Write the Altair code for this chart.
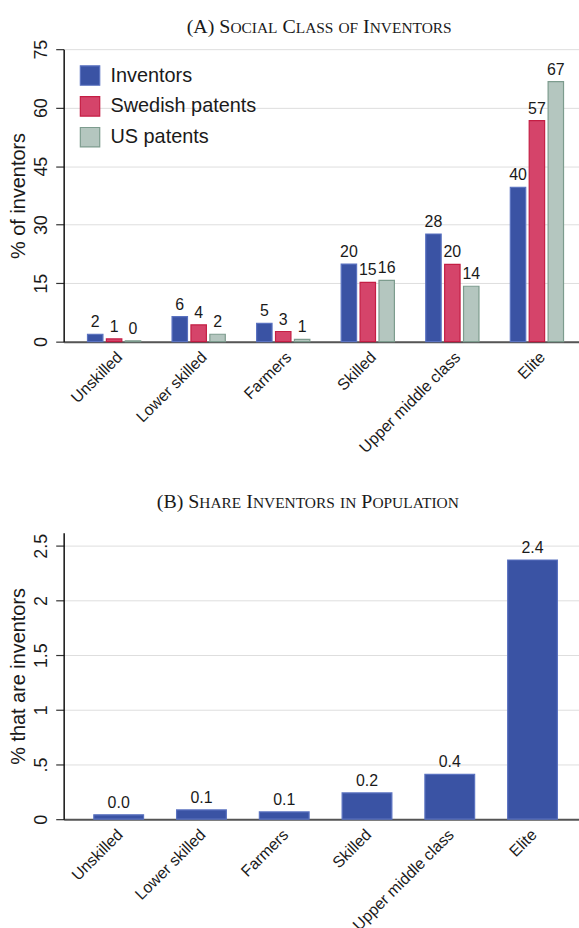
import altair as alt
import pandas as pd

# ---- data -------------------------------------------------------------
categories = ["Unskilled", "Lower skilled", "Farmers", "Skilled",
              "Upper middle class", "Elite"]
series_names = ["Inventors", "Swedish patents", "US patents"]

inventors = [1.9, 6.4, 4.7, 19.9, 27.6, 39.6]
swedish_patents = [0.7, 4.3, 2.6, 15.2, 19.8, 56.7]
us_patents = [0.2, 1.9, 0.6, 15.7, 14.2, 66.7]

share_inventors = [0.04, 0.085, 0.066, 0.24, 0.41, 2.37]

ticks_a = [0, 15, 30, 45, 60, 75]
ticks_b = [0, 0.5, 1, 1.5, 2, 2.5]

title_a = "(A) Social Class of Inventors"
title_b = "(B) Share Inventors in Population"

# ---- styling ----------------------------------------------------------
SANS = "Liberation Sans"
SERIF = "Liberation Serif"
INK = "#1a1a1a"
series_fill = ["#3a53a4", "#d5446a", "#b4c6bf"]
series_edge = ["#5a72c0", "#c41e44", "#7d9c8e"]

W = 518
H_A = 294
H_B = 288

# Times advance widths (per 1000 em) for small-caps title layout
TIMES_W = {
    "A": 722, "B": 667, "C": 667, "D": 722, "E": 611, "F": 556, "G": 722,
    "H": 722, "I": 333, "J": 389, "K": 722, "L": 611, "M": 889, "N": 722,
    "O": 722, "P": 556, "Q": 722, "R": 667, "S": 556, "T": 611, "U": 722,
    "V": 722, "W": 944, "X": 722, "Y": 722, "Z": 611, " ": 250, "(": 333,
    ")": 333,
}


def smallcaps_title(text, center_x, baseline_y, big=20, small=15.5):
    """Lay out a small-caps heading as runs of full and reduced capitals."""
    runs = []  # [string, size, x]
    total = 0.0
    for ch in text:
        size = small if ch.islower() else big
        adv = TIMES_W.get(ch.upper(), 600) * size / 1000
        if ch == " ":
            runs.append(None)
        elif runs and runs[-1] is not None and runs[-1][1] == size:
            runs[-1][0] += ch.upper()
        else:
            runs.append([ch.upper(), size, total])
        total += adv
    x0 = center_x - total / 2
    layers = []
    for run in runs:
        if run is None:
            continue
        s, sz, off = run
        layers.append(
            alt.Chart(alt.Data(values=[{}]))
            .mark_text(text=s, font=SERIF, fontSize=sz, align="left",
                       baseline="alphabetic", color=INK)
            .encode(x=alt.value(x0 + off), y=alt.value(baseline_y))
        )
    return layers


def band_scale(n, step, bandwidth, first_center):
    """Band scale placing n bands of a given step, first centred at first_center."""
    p_in = 1 - bandwidth / step
    p_out = (W / step - (n - p_in)) / 2
    align = (first_center - bandwidth / 2) / (W - step * (n - p_in))
    return alt.Scale(paddingInner=p_in, paddingOuter=p_out, align=align)


def x_axis(shift):
    return alt.Axis(title=None, labelAngle=-45, labelAlign="right",
                    labelBaseline="top", labelFont=SANS, labelFontSize=16,
                    labelColor=INK, labelPadding=7, labelOffset=shift,
                    ticks=False, grid=False,
                    domainColor="#555555", domainWidth=2)


def y_axis(title, values, **extra):
    return alt.Axis(title=title, values=values, labelAngle=270,
                    labelAlign="center", labelBaseline="alphabetic",
                    labelPadding=9, labelFont=SANS, labelFontSize=18,
                    labelColor=INK, tickSize=8, tickColor="#333333",
                    tickWidth=1.2, domainColor="#111111", domainWidth=1.5,
                    grid=True, gridColor="#dedede", gridWidth=1,
                    titleFont=SANS, titleFontSize=20, titleFontWeight="normal",
                    titleColor=INK, titlePadding=4, **extra)


# ---- panel A: grouped bars --------------------------------------------
rows = []
for name, vals in zip(series_names, [inventors, swedish_patents, us_patents]):
    for cat, v in zip(categories, vals):
        rows.append({"category": cat, "series": name, "value": v})
df_a = pd.DataFrame(rows)

x_a = alt.X("category:N", sort=categories, axis=x_axis(0),
            scale=band_scale(6, 85, 53.5, 50.7))
off_a = alt.XOffset("series:N", sort=series_names,
                    scale=alt.Scale(paddingInner=0.184, paddingOuter=0))
y_a = alt.Y("value:Q", scale=alt.Scale(domain=[0, 75], nice=False),
            axis=y_axis("% of inventors", ticks_a))

legend = alt.Legend(title=None, orient="top-left", offset=16, padding=0,
                    symbolType="square", symbolSize=380, symbolStrokeWidth=1.2,
                    labelFont=SANS, labelFontSize=20, labelColor=INK,
                    labelOffset=10, rowPadding=6)

bars_a = alt.Chart(df_a).mark_bar(strokeWidth=1.2).encode(
    x=x_a, xOffset=off_a, y=y_a,
    color=alt.Color("series:N", sort=series_names, legend=legend,
                    scale=alt.Scale(domain=series_names, range=series_fill)),
    stroke=alt.Stroke("series:N", sort=series_names, legend=legend,
                      scale=alt.Scale(domain=series_names, range=series_edge)),
)
labels_a = alt.Chart(df_a).mark_text(
    dy=-7, baseline="alphabetic", font=SANS, fontSize=16, color=INK
).encode(x=x_a, xOffset=off_a, y=y_a,
         text=alt.Text("value:Q", format=".0f"))

panel_a = alt.layer(
    bars_a, labels_a, *smallcaps_title(title_a, 257, -16)
).properties(width=W, height=H_A)

# ---- panel B: single series -------------------------------------------
df_b = pd.DataFrame({"category": categories, "share": share_inventors})

x_b = alt.X("category:N", sort=categories, axis=x_axis(-4),
            scale=band_scale(6, 83.2, 50, 55.3))
y_b = alt.Y("share:Q", scale=alt.Scale(domain=[0, 2.62], nice=False),
            axis=y_axis("% that are inventors", ticks_b, format="~g",
                        labelExpr="datum.value == 0.5 ? '.5' : datum.label"))

bars_b = alt.Chart(df_b).mark_bar(
    color=series_fill[0], stroke=series_edge[0], strokeWidth=1.2
).encode(x=x_b, y=y_b)
labels_b = alt.Chart(df_b).mark_text(
    dy=-7, baseline="alphabetic", font=SANS, fontSize=16, color=INK
).encode(x=x_b, y=y_b, text=alt.Text("share:Q", format=".1f"))

panel_b = alt.layer(
    bars_b, labels_b, *smallcaps_title(title_b, 246.3, -24.3)
).properties(width=W, height=H_B)

chart = (
    alt.vconcat(panel_a, panel_b, spacing=36)
    .resolve_scale(color="independent", stroke="independent")
    .properties(padding={"left": 8, "top": 15, "right": 0, "bottom": 0},
                background="white")
    .configure_view(stroke=None)
)

chart.save("out.html", embed_options={"renderer": "svg", "actions": False})
